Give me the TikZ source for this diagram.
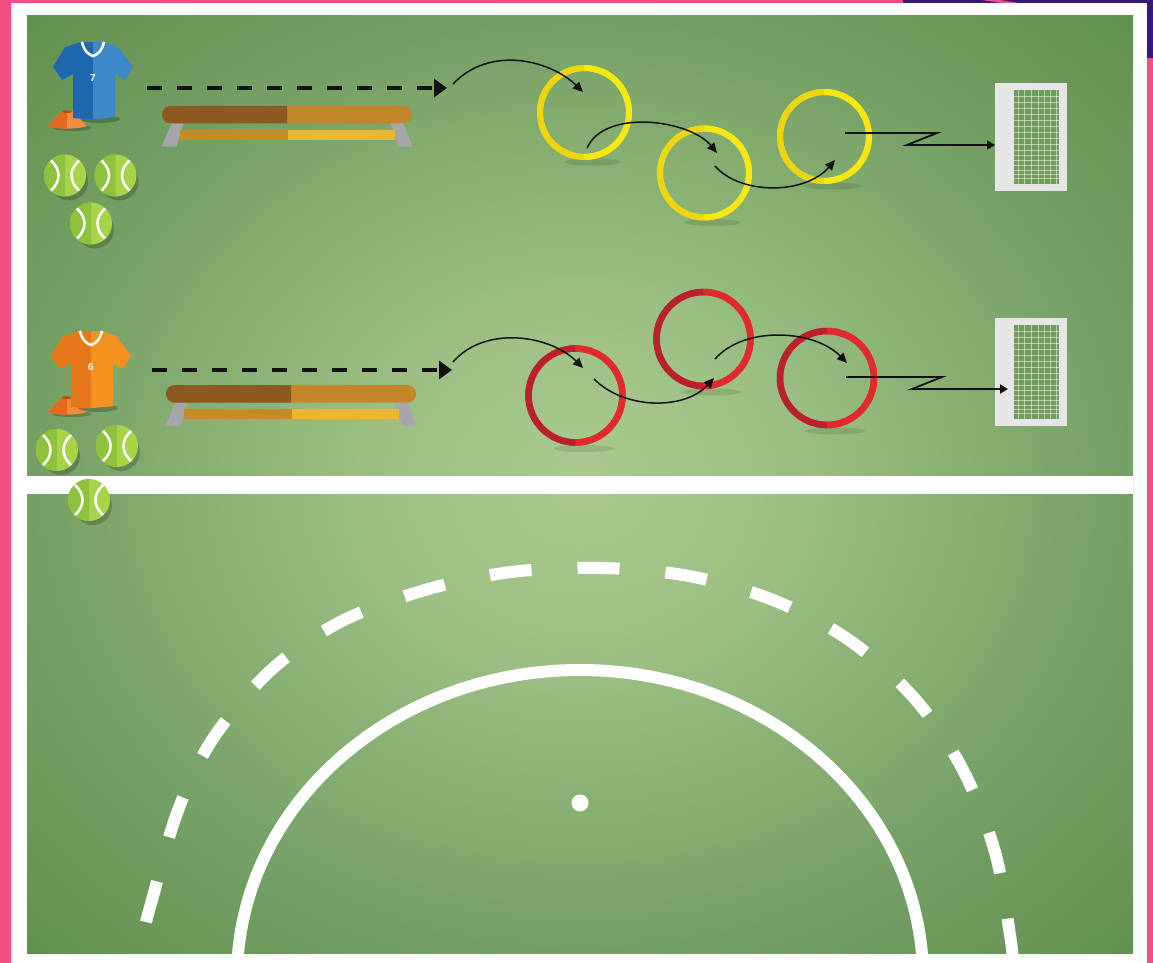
\documentclass[tikz,border=0pt]{standalone}
\usepackage{fontspec}
\setsansfont{Liberation Sans}
\usetikzlibrary{arrows.meta}

\definecolor{pinkbg}{HTML}{F24E81}
\definecolor{purplebg}{HTML}{34197B}
\definecolor{edgeblue}{HTML}{C9D9F2}
\definecolor{turfA}{HTML}{AACA8F}
\definecolor{turfB}{HTML}{9BBF82}
\definecolor{turfC}{HTML}{86AE71}
\definecolor{turfD}{HTML}{74A064}
\definecolor{turfE}{HTML}{62924F}
\definecolor{ringyel}{HTML}{F5E812}
\definecolor{ringgold}{HTML}{EDD510}
\definecolor{ringred}{HTML}{E02A2C}
\definecolor{ringdark}{HTML}{B9222A}
\definecolor{shirtbluel}{HTML}{3D88C8}
\definecolor{shirtblued}{HTML}{1F67AE}
\definecolor{shirtorl}{HTML}{F5921F}
\definecolor{shirtord}{HTML}{E5791A}
\definecolor{conel}{HTML}{F08C3E}
\definecolor{coned}{HTML}{E4691C}
\definecolor{conehole}{HTML}{B5521B}
\definecolor{balll}{HTML}{A8D44A}
\definecolor{balld}{HTML}{8CC23C}
\definecolor{seatl}{HTML}{8A5A22}
\definecolor{seatr}{HTML}{C3862A}
\definecolor{barl}{HTML}{C88A22}
\definecolor{barr}{HTML}{EDB62E}
\definecolor{legc}{HTML}{A6A6AA}
\definecolor{goalgrey}{HTML}{E6E6E6}
\definecolor{netgreen}{HTML}{6F9C5A}
\definecolor{inkblack}{HTML}{111111}

% turf: light centre fading to darker edges (path box spans -25bp..25bp)
\pgfdeclareradialshading{turf}{\pgfpoint{0bp}{0bp}}{%
  color(0bp)=(turfA); color(10bp)=(turfB); color(18bp)=(turfC);
  color(25bp)=(turfD); color(35bp)=(turfE); color(50bp)=(turfE)}

\tikzset{
  yring/.style={circle, draw=ringyel, line width=6pt, minimum size=89pt,
    inner sep=0pt, outer sep=0pt},
  rring/.style={circle, draw=ringred, line width=6.5pt, minimum size=94pt,
    inner sep=0pt, outer sep=0pt},
  goalbox/.style={rectangle, fill=goalgrey, minimum width=72pt,
    minimum height=108pt, inner sep=0pt, outer sep=0pt},
  netline/.style={white, opacity=.5, line width=.9pt},
  runline/.style={inkblack, line width=4pt, dash pattern=on 15pt off 15pt,
    -{Triangle[length=13pt,width=18pt]}},
  passline/.style={inkblack, line width=1.5pt,
    -{Triangle[length=10pt,width=9pt]}},
  shotline/.style={inkblack, line width=1.8pt, line join=miter,
    -{Triangle[length=8pt,width=9pt]}},
  pitchline/.style={white, line width=12pt},
  ringshadow/.style={black, opacity=.1},
  pics/shirt/.style n args={3}{code={
    \fill[black, opacity=.22] (7,77) ellipse[x radius=20, y radius=4];
    \fill[#2] (-11,0) -- (-28,5) -- (-40,25) -- (-31,38) -- (-20,32)
      -- (-20,76) .. controls (0,77.5) .. (22,75) -- (22,32) -- (32,38)
      -- (40,25) -- (25,5) -- (11,0) -- cycle;
    \begin{scope}
      \clip (-11,0) -- (-28,5) -- (-40,25) -- (-31,38) -- (-20,32)
        -- (-20,76) .. controls (0,77.5) .. (22,75) -- (22,32) -- (32,38)
        -- (40,25) -- (25,5) -- (11,0) -- cycle;
      \fill[#1] (-45,-2) rectangle (0,80);
    \end{scope}
    \draw[white, line width=2.6pt] (-11,0) .. controls (-9,9) and (-4,13) .. (0,14)
      .. controls (4,13) and (9,9) .. (11,0);
    \node[text=white, inner sep=0pt, font=\sffamily\bfseries\fontsize{10}{10}\selectfont]
      at (0,36) {#3};
  }},
  pics/cone/.style={code={
    \fill[black, opacity=.2] (5,17) ellipse[x radius=20, y radius=3];
    \fill[conel] (-5,0) -- (5,0) -- (20,15) .. controls (12,18.5) and (-11,18.5)
      .. (-19,15) -- cycle;
    \begin{scope}
      \clip (-5,0) -- (5,0) -- (20,15) .. controls (12,18.5) and (-11,18.5)
        .. (-19,15) -- cycle;
      \fill[coned] (-25,-2) rectangle (0,20);
    \end{scope}
    \fill[conehole] (0,0.6) ellipse[x radius=5, y radius=1.5];
  }},
  pics/ball/.style={code={
    \fill[black, opacity=.2] (4,6) circle[radius=19];
    \fill[balll] (0,0) circle[radius=21];
    \fill[balld] (90:21) arc[start angle=90, end angle=270, radius=21] -- cycle;
    \draw[white, line width=2.6pt] (-14,-15) .. controls (-4,-6) and (-4,6) .. (-14,15);
    \draw[white, line width=2.6pt] (14,-15) .. controls (4,-6) and (4,6) .. (14,15);
  }},
  pics/bench/.style={code={
    \fill[legc] (9.7,17) -- (21.3,17) -- (14.7,40.7) -- (-0.3,40.7) -- cycle;
    \fill[legc] (228,17) -- (241.3,17) -- (250.7,40.7) -- (236,40.7) -- cycle;
    \fill[barl] (18,24) rectangle (126,34);
    \fill[barr] (126,24) rectangle (233,34);
    \fill[seatr, rounded corners=8.5pt] (0,0) rectangle (250,17.5);
    \begin{scope}
      \clip (-1,-1) rectangle (125,19);
      \fill[seatl, rounded corners=8.5pt] (0,0) rectangle (250,17.5);
    \end{scope}
  }},
}

\begin{document}
\begin{tikzpicture}[x=1pt, y=-1pt]
\useasboundingbox (0,0) rectangle (1153,963);

% page surround and white card
\fill[pinkbg] (0,0) rectangle (1153,963);
\fill[purplebg] (903,0) rectangle (1153,3.5);
\fill[pinkbg] (982,0) -- (1000,0) -- (1022,3.5) -- (1004,3.5) -- cycle;
\fill[purplebg] (1146,0) rectangle (1153,58);
\fill[white] (12,3) rectangle (1147,963);
\draw[edgeblue, line width=1pt] (11.5,3) -- (11.5,963);

% turf with the dividing strip
\shade[shading=turf] (27,16) rectangle (1133,953);
\fill[white] (27,476) rectangle (1133,494);

% ---- lower half: shooting circle ----
\coordinate (dcentre) at (580,978);
\begin{scope}
  \clip (27,494) rectangle (1133,953);
  \draw[pitchline] (dcentre) ellipse[x radius=343, y radius=308];
  \draw[pitchline, dash pattern=on 42pt off 46pt]
    plot[smooth, tension=.55] coordinates {
      (146,922) (152,900) (177,813) (212,740) (270,671) (340,622) (425,590)
      (511,572) (601,568) (689,576) (773,600) (849,640) (915,699) (963,770)
      (995,852) (1010,935) (1013,962)};
\end{scope}
\fill[white] (580,803) circle[radius=8.5] coordinate (spot);

% ---- upper lane: yellow rings ----
\node[yring] (y1) at (584.5,112.5) {};
\node[yring] (y2) at (704.5,173) {};
\node[yring] (y3) at (824.5,136.5) {};
\foreach \r in {y1,y2,y3}{
  \fill[ringshadow] ([shift={(8,5)}]\r.south) ellipse[x radius=28, y radius=3.5];
  \draw[ringgold, line width=6pt] (\r.south) arc[start angle=90, end angle=270, radius=44.5];
  \draw[ringyel, line width=6pt] (\r.north) arc[start angle=270, end angle=450, radius=44.5];
}

% ---- lower lane: red rings ----
\node[rring] (r1) at (575.5,395.5) {};
\node[rring] (r2) at (703.5,339) {};
\node[rring] (r3) at (827,378) {};
\foreach \r in {r1,r2,r3}{
  \fill[ringshadow] ([shift={(8,6)}]\r.south) ellipse[x radius=30, y radius=3.5];
  \draw[ringdark, line width=6.5pt] (\r.south) arc[start angle=90, end angle=270, radius=47];
  \draw[ringred, line width=6.5pt] (\r.north) arc[start angle=270, end angle=450, radius=47];
}

% ---- goals ----
\node[goalbox] (g1) at (1031,137) {};
\node[goalbox] (g2) at (1031,372) {};
\foreach \g in {g1,g2}{
  \begin{scope}[shift={(\g.north west)}]
    \fill[netgreen] (19,7) rectangle (64,101);
    \foreach \x in {23,29,36,43,49,55,61}
      \draw[netline] (\x,7) -- (\x,101);
    \foreach \y in {13,19,25,31,37,43,49,55,61,67,72,77,82,87,91,95}
      \draw[netline] (19,\y) -- (64,\y);
  \end{scope}
}

% ---- benches ----
\pic at (162,106) {bench};
\pic at (166,385) {bench};

% ---- players, cones and balls ----
\pic at (67,111) {cone};
\pic at (93,42) {shirt={shirtblued}{shirtbluel}{7}};
\pic at (67,397) {cone};
\pic at (91,331) {shirt={shirtord}{shirtorl}{6}};

\pic at (65,175.5) {ball};
\pic at (115.5,175.5) {ball};
\pic at (91,223.5) {ball};
\pic at (57,450) {ball};
\pic at (117,446) {ball};
\pic at (89,500) {ball};

% ---- runs with the ball along the bench ----
\coordinate (run1s) at (147,88);
\coordinate (run1e) at (447,88);
\coordinate (run2s) at (152,370);
\coordinate (run2e) at (452,370);
\draw[runline] (run1s) -- (run1e);
\draw[runline] (run2s) -- (run2e);

% ---- passes through the rings ----
\coordinate (a1s) at (453,84);  \coordinate (a1e) at (583,92);
\coordinate (a2s) at (587,148); \coordinate (a2e) at (717,153);
\coordinate (a3s) at (715,166); \coordinate (a3e) at (835,160);
\draw[passline] (a1s) .. controls (490,45) and (550,60) .. (a1e);
\draw[passline] (a2s) .. controls (605,108) and (690,120) .. (a2e);
\draw[passline] (a3s) .. controls (740,195) and (805,195) .. (a3e);

\coordinate (b1s) at (453,362); \coordinate (b1e) at (583,368);
\coordinate (b2s) at (594,379); \coordinate (b2e) at (714,378);
\coordinate (b3s) at (715,359); \coordinate (b3e) at (847,363);
\draw[passline] (b1s) .. controls (485,325) and (550,335) .. (b1e);
\draw[passline] (b2s) .. controls (625,410) and (685,410) .. (b2e);
\draw[passline] (b3s) .. controls (745,325) and (815,330) .. (b3e);

% ---- shots at goal ----
\coordinate (s1a) at (845,133); \coordinate (s1b) at (937,133); \coordinate (s1c) at (907,145);
\draw[shotline] (s1a) -- (s1b) -- (s1c) -- (s1c -| g1.west);
\coordinate (s2a) at (846,377); \coordinate (s2b) at (942,377); \coordinate (s2c) at (912,389);
\coordinate (s2t) at (1008,389);
\draw[shotline] (s2a) -- (s2b) -- (s2c) -- (s2t);
\end{tikzpicture}
\end{document}
